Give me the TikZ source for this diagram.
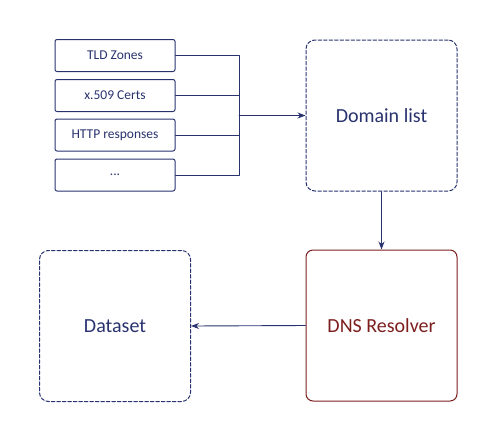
\documentclass[tikz,border=0pt]{standalone}
\usepackage{fontspec}
\setmainfont{Carlito}
\usetikzlibrary{positioning,arrows.meta}
\definecolor{navy}{RGB}{40,50,110}
\definecolor{darkred}{RGB}{125,30,30}
\tikzset{
	srcbox/.style={draw=navy,line width=1pt,rounded corners=2pt,minimum width=120pt,minimum height=32pt,inner sep=0pt,font=\fontsize{13.5}{15}\selectfont,text=navy},
	bigbox/.style={draw=navy,line width=1pt,dash pattern=on 3.5pt off 2pt,rounded corners=9pt,minimum width=151pt,minimum height=151pt,inner sep=0pt,font=\fontsize{20}{24}\selectfont,text=navy},
	link/.style={navy,line width=0.9pt},
}
\begin{document}
\begin{tikzpicture}[x=1pt,y=-1pt, line join=round, line cap=round, >={Stealth[length=8pt,width=6pt]}]
				\useasboundingbox (0,0) rectangle (500,437);
				\node[srcbox] (tld) at (115,55.5) {TLD Zones};
				\node[srcbox] (cert) at (115,95.5) {x.509 Certs};
				\node[srcbox] (http) at (115,135) {HTTP responses};
				\node[srcbox] (more) at (115,175) {...};
				\node[bigbox] (domain) at (381.5,115.5) {Domain list};
				\node[bigbox,draw=darkred,text=darkred,solid,rounded corners=7pt] (dns) at (381.5,325.5) {DNS Resolver};
				\node[bigbox] (dataset) at (115,326) {Dataset};
				\coordinate (bus) at (239,115.5);
				% sources join on one bus
				\draw[link] (tld.east)--(tld.east-|bus)--(more.east-|bus)--(more.east);
				\draw[link] (cert.east)--(cert.east-|bus) (http.east)--(http.east-|bus);
				\draw[link,->] (bus)--(domain.west);
				\draw[link,->] (domain.south)--(dns.north);
				\draw[link,->] (dns.west)--(dataset.east);
			\end{tikzpicture}
\end{document}
